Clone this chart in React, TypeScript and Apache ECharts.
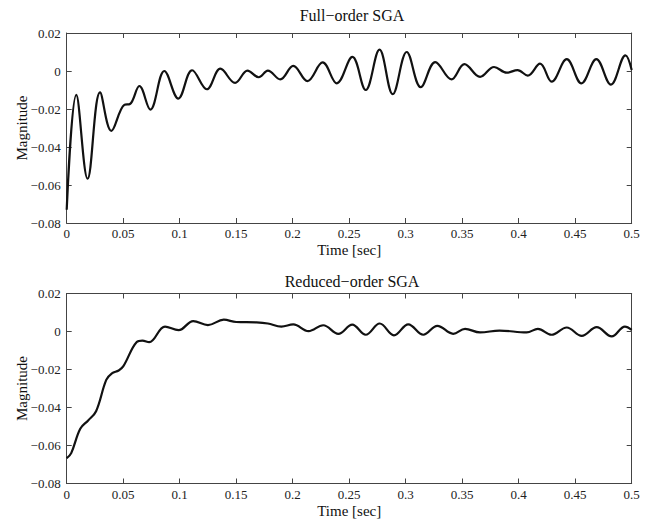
import React, { useEffect, useRef } from "react";
import * as echarts from "echarts";

// Full-order SGA response (time [sec], magnitude) read at extrema
const fullT = [0, 0.0085, 0.0185, 0.0295, 0.0395, 0.051, 0.056, 0.0643, 0.074, 0.0864, 0.0988, 0.111, 0.124, 0.136, 0.149, 0.16, 0.17, 0.178, 0.189, 0.2005, 0.213, 0.2265, 0.239, 0.2528, 0.2646, 0.2768, 0.2885, 0.3009, 0.3133, 0.3262, 0.3405, 0.352, 0.3658, 0.3782, 0.3894, 0.399, 0.408, 0.4189, 0.4292, 0.4425, 0.4555, 0.4687, 0.4816, 0.4945, 0.5];
const fullV = [-0.073, -0.0126, -0.0567, -0.0113, -0.0315, -0.0178, -0.0174, -0.0079, -0.0203, 0.0, -0.0145, 0.0004, -0.0096, 0.0012, -0.0063, 0.0002, -0.0033, 0.0002, -0.0044, 0.0027, -0.0053, 0.0045, -0.0065, 0.0074, -0.0100, 0.0112, -0.0122, 0.0100, -0.0085, 0.0047, -0.0044, 0.0036, -0.0031, 0.0021, -0.0009, 0.0005, -0.0024, 0.0039, -0.0056, 0.0062, -0.0065, 0.0062, -0.0072, 0.0082, 0.0005];

// Reduced-order SGA response
const redT = [0, 0.004, 0.012, 0.019, 0.026, 0.035, 0.04, 0.046, 0.05, 0.062, 0.067, 0.073, 0.087, 0.099, 0.112, 0.125, 0.139, 0.15, 0.168, 0.178, 0.19, 0.2005, 0.214, 0.227, 0.2404, 0.2527, 0.2646, 0.277, 0.2896, 0.3023, 0.3156, 0.328, 0.342, 0.3525, 0.3658, 0.383, 0.407, 0.417, 0.429, 0.4425, 0.4558, 0.469, 0.4823, 0.494, 0.5];
const redV = [-0.0667, -0.064, -0.0512, -0.0468, -0.042, -0.0255, -0.022, -0.0205, -0.0184, -0.0055, -0.0048, -0.0056, 0.0026, 0.0007, 0.0055, 0.0034, 0.0062, 0.005, 0.0048, 0.0042, 0.0026, 0.0037, 0.0002, 0.0033, -0.0012, 0.0036, -0.0017, 0.0042, -0.002, 0.0038, -0.0017, 0.003, -0.0012, 0.0014, -0.0005, 0.0005, -0.0005, 0.0014, -0.0017, 0.0021, -0.0023, 0.0023, -0.0026, 0.0026, 0.0009];

const titles = ["Full\u2212order SGA", "Reduced\u2212order SGA"];
const xName = "Time [sec]";
const yName = "Magnitude";
const xMin = 0, xMax = 0.5, xStep = 0.05;
const yMin = -0.08, yMax = 0.02, yStep = 0.02;

const FONT = "'Liberation Serif', 'DejaVu Serif', serif";
const AXIS_COLOR = "#444";

function fmt(v: number): string {
  const r = Math.round(v * 1000) / 1000;
  const s = String(r);
  return s.replace("-", "\u2212");
}

export default function App() {
  const ref = useRef<HTMLDivElement>(null);
  useEffect(() => {
    document.body.style.margin = "0";
    const chart = echarts.init(ref.current!, null, { renderer: "svg" });
    const grids = [
      { left: 66.7, top: 33, width: 565, height: 190, outerBoundsMode: "none", containLabel: false },
      { left: 66.7, top: 293.5, width: 565, height: 190, outerBoundsMode: "none", containLabel: false },
    ];
    const xGaps = [19, 20];
    const xAxes: any[] = [];
    const yAxes: any[] = [];
    grids.forEach((_, gi) => {
      const common = {
        gridIndex: gi,
        type: "value",
        axisLine: { show: true, onZero: false, lineStyle: { color: AXIS_COLOR, width: 1 } },
        axisTick: { show: true, inside: true, length: 5, lineStyle: { color: AXIS_COLOR } },
        splitLine: { show: false },
      };
      xAxes.push({
        ...common,
        position: "bottom",
        min: xMin, max: xMax, interval: xStep,
        name: xName, nameLocation: "middle", nameGap: xGaps[gi], nameMoveOverlap: false,
        nameTextStyle: { fontFamily: FONT, fontSize: 15, color: "#111" },
        axisLabel: { margin: 4, fontFamily: FONT, fontSize: 13, color: "#222", formatter: fmt },
      });
      xAxes.push({
        ...common,
        position: "top",
        min: xMin, max: xMax, interval: xStep,
        axisLabel: { show: false },
      });
      yAxes.push({
        ...common,
        position: "left",
        min: yMin, max: yMax, interval: yStep,
        name: yName, nameLocation: "middle", nameGap: 37, nameRotate: 90, nameMoveOverlap: false,
        nameTextStyle: { fontFamily: FONT, fontSize: 15, color: "#111" },
        axisLabel: { margin: 6, fontFamily: FONT, fontSize: 13, color: "#222", formatter: fmt },
      });
      yAxes.push({
        ...common,
        position: "right",
        min: yMin, max: yMax, interval: yStep,
        axisLabel: { show: false },
      });
    });
    const mk = (t: number[], v: number[]) => t.map((x, i) => [x, v[i]]);
    const titleStyle = { fontFamily: FONT, fontSize: 16, fontWeight: "normal", color: "#111" };
    chart.setOption({
      animation: false,
      backgroundColor: "#fff",
      title: [
        { text: titles[0], left: 347, top: 2, textAlign: "center", textStyle: titleStyle },
        { text: titles[1], left: 347, top: 268, textAlign: "center", textStyle: titleStyle },
      ],
      grid: grids,
      xAxis: xAxes,
      yAxis: yAxes,
      series: [
        { type: "line", xAxisIndex: 0, yAxisIndex: 0, data: mk(fullT, fullV), smooth: 0.38, showSymbol: false, lineStyle: { color: "#111", width: 2.2 } },
        { type: "line", xAxisIndex: 2, yAxisIndex: 2, data: mk(redT, redV), smooth: 0.38, showSymbol: false, lineStyle: { color: "#111", width: 2.2 } },
      ],
    });
    return () => chart.dispose();
  }, []);
  return <div ref={ref} style={{ width: 653, height: 525 }} />;
}
